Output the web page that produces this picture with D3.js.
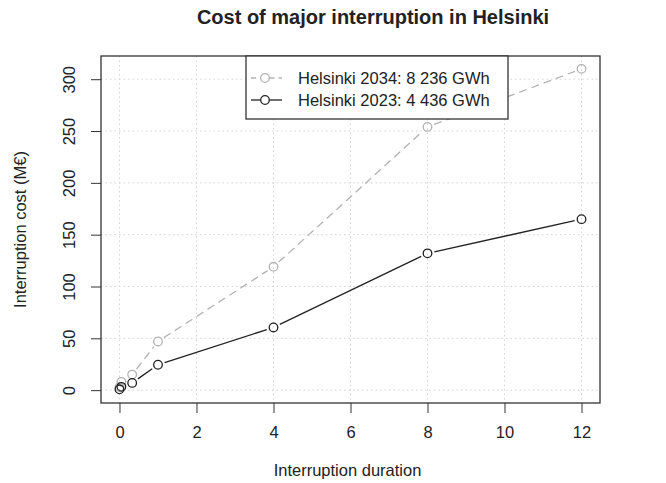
<!DOCTYPE html>
<html>
<head>
<meta charset="utf-8">
<script src="https://cdn.jsdelivr.net/npm/d3@7"></script>
<style>
  body { margin: 0; background: #fff; }
  text { font-family: "Liberation Sans", Arial, sans-serif; fill: #222; }
</style>
</head>
<body>
<script>
// interruption duration (hours)
var durations = [0, 0.05, 0.33, 1, 4, 8, 12];
// cost in M€
var cost2034 = [3, 8, 15, 47, 119, 254, 310];
var cost2023 = [0.8, 3.2, 7, 24.5, 60.5, 132, 165];
var xTicks = [0, 2, 4, 6, 8, 10, 12];
var yTicks = [0, 50, 100, 150, 200, 250, 300];
var seriesNames = ["Helsinki 2034: 8 236 GWh", "Helsinki 2023: 4 436 GWh"];

var width = 666, height = 483;
var box = { left: 101, right: 600, top: 56, bottom: 403 };

var svg = d3.select("body").append("svg")
    .attr("width", width)
    .attr("height", height);

// R style 4% padding on both axes
function padded(ext) {
    var d = (ext[1] - ext[0]) * 0.04;
    return [ext[0] - d, ext[1] + d];
}
var x = d3.scaleLinear().domain(padded(d3.extent(durations))).range([box.left, box.right]);
var y = d3.scaleLinear().domain(padded([0, d3.max(cost2034.concat(cost2023))])).range([box.bottom, box.top]);

// grid
var grid = svg.append("g").attr("class", "grid")
    .attr("stroke", "#d3d3d3").attr("stroke-dasharray", "1.5,3").attr("stroke-width", 1);
grid.selectAll("line.gx").data(xTicks).enter().append("line")
    .attr("x1", function(d) { return x(d); }).attr("x2", function(d) { return x(d); })
    .attr("y1", box.top).attr("y2", box.bottom);
grid.selectAll("line.gy").data(yTicks).enter().append("line")
    .attr("y1", function(d) { return y(d); }).attr("y2", function(d) { return y(d); })
    .attr("x1", box.left).attr("x2", box.right);

// axes
var xAxis = svg.append("g").attr("transform", "translate(0," + box.bottom + ")")
    .call(d3.axisBottom(x).tickValues(xTicks).tickSize(10).tickPadding(13).tickSizeOuter(0));
var yAxis = svg.append("g").attr("transform", "translate(" + box.left + ",0)")
    .call(d3.axisLeft(y).tickValues(yTicks).tickSize(10).tickPadding(6).tickSizeOuter(0));
[xAxis, yAxis].forEach(function(a) {
    a.select(".domain").remove();
    a.selectAll(".tick line").attr("stroke", "#333");
    a.selectAll("text").style("font-size", "16.5px").attr("fill", "#222")
        .style("font-family", "'Liberation Sans', Arial, sans-serif");
});
yAxis.selectAll(".tick text")
    .attr("text-anchor", "middle")
    .attr("transform", "rotate(-90)")
    .attr("x", 0).attr("dy", "0")
    .attr("y", -26);

// box
svg.append("rect")
    .attr("x", box.left).attr("y", box.top)
    .attr("width", box.right - box.left).attr("height", box.bottom - box.top)
    .attr("fill", "none").attr("stroke", "#333").attr("stroke-width", 1.3);

// type = "b" lines: segments with gaps around points
function drawSeries(vals, color, dash) {
    var g = svg.append("g");
    var pts = durations.map(function(d, i) { return [x(d), y(vals[i])]; });
    var gap = 7;
    for (var i = 0; i < pts.length - 1; i++) {
        var p = pts[i], q = pts[i + 1];
        var dx = q[0] - p[0], dy = q[1] - p[1];
        var len = Math.sqrt(dx * dx + dy * dy);
        if (len <= 2 * gap) continue;
        var ux = dx / len, uy = dy / len;
        g.append("line")
            .attr("x1", p[0] + ux * gap).attr("y1", p[1] + uy * gap)
            .attr("x2", q[0] - ux * gap).attr("y2", q[1] - uy * gap)
            .attr("stroke", color).attr("stroke-width", 1.3)
            .attr("stroke-dasharray", dash);
    }
    g.selectAll("circle").data(pts).enter().append("circle")
        .attr("cx", function(d) { return d[0]; })
        .attr("cy", function(d) { return d[1]; })
        .attr("r", 4.3)
        .attr("fill", "none").attr("stroke", color).attr("stroke-width", 1.3);
}
drawSeries(cost2034, "#b3b3b3", "8,5");
drawSeries(cost2023, "#222", null);

// legend
var lg = svg.append("g");
lg.append("rect")
    .attr("x", 246).attr("y", box.top).attr("width", 262).attr("height", 63)
    .attr("fill", "#fff").attr("stroke", "#333").attr("stroke-width", 1.3);
var legendRows = [
    { name: seriesNames[0], color: "#b3b3b3", dash: "5,4", y: 78 },
    { name: seriesNames[1], color: "#222", dash: null, y: 100 }
];
legendRows.forEach(function(r) {
    lg.append("line").attr("x1", 251).attr("x2", 260.5).attr("y1", r.y).attr("y2", r.y)
        .attr("stroke", r.color).attr("stroke-width", 1.3).attr("stroke-dasharray", r.dash);
    lg.append("line").attr("x1", 269.5).attr("x2", 282).attr("y1", r.y).attr("y2", r.y)
        .attr("stroke", r.color).attr("stroke-width", 1.3).attr("stroke-dasharray", r.dash);
    lg.append("circle").attr("cx", 265).attr("cy", r.y).attr("r", 4.3)
        .attr("fill", "none").attr("stroke", r.color).attr("stroke-width", 1.3);
    lg.append("text").attr("x", 298).attr("y", r.y).attr("dy", "0.36em")
        .style("font-size", "16.5px").text(r.name);
});

// titles
svg.append("text").attr("x", 373).attr("y", 24).attr("text-anchor", "middle")
    .style("font-size", "20px").style("font-weight", "bold")
    .text("Cost of major interruption in Helsinki");
svg.append("text").attr("x", (box.left + box.right) / 2 - 3).attr("y", 476).attr("text-anchor", "middle")
    .style("font-size", "16.5px").text("Interruption duration");
svg.append("text").attr("transform", "translate(26," + ((box.top + box.bottom) / 2) + ") rotate(-90)")
    .attr("text-anchor", "middle")
    .style("font-size", "16.5px").text("Interruption cost (M€)");
</script>
</body>
</html>
